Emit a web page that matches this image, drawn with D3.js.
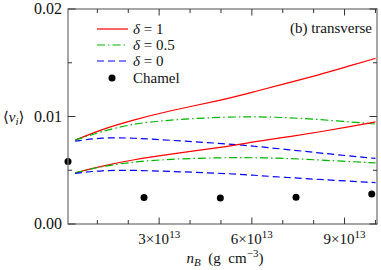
<!DOCTYPE html>
<html lang="en">
<head>
    <meta charset="UTF-8">
    <title>transverse</title>
    <script src="https://d3js.org/d3.v7.min.js"></script>
    <style>
        body {margin: 0; background: white;}
    </style>
</head>
<body>
<script>
    const width = 381;
    const height = 270;
    const margin = {top: 9, right: 4, bottom: 46, left: 68};

    // n_B in units of 1e13 g cm^-3
    const nUpperRed   = [0.28, 1.13, 2.2, 3.27, 5.03, 6.07, 7.14, 8.21, 9.27, 10.0];
    const vUpperRed   = [0.0078, 0.0088, 0.0097, 0.0105, 0.01152, 0.0123, 0.0131, 0.0139, 0.0148, 0.0154];
    const nUpperGreen = [0.28, 1.13, 2.2, 3.27, 5.03, 6.6, 7.67, 8.74, 10.0];
    const vUpperGreen = [0.0078, 0.00862, 0.00935, 0.00966, 0.00997, 0.00997, 0.00982, 0.0096, 0.0093];
    const nUpperBlue  = [0.28, 1.13, 2.2, 3.27, 5.03, 6.07, 7.14, 8.21, 10.0];
    const vUpperBlue  = [0.0077, 0.00805, 0.008, 0.0078, 0.0075, 0.00724, 0.00693, 0.0066, 0.0061];
    const nLowerRed   = [0.28, 1.13, 2.2, 3.27, 5.03, 6.07, 7.14, 8.21, 9.27, 10.0];
    const vLowerRed   = [0.00475, 0.0054, 0.006, 0.00646, 0.00714, 0.00764, 0.0081, 0.00857, 0.0091, 0.0095];
    const nLowerGreen = [0.28, 1.13, 2.2, 3.27, 5.03, 6.6, 7.67, 8.74, 10.0];
    const vLowerGreen = [0.00475, 0.00538, 0.00578, 0.00603, 0.00619, 0.00616, 0.00603, 0.00587, 0.00568];
    const nLowerBlue  = [0.28, 1.13, 2.2, 3.27, 5.03, 6.07, 7.14, 8.21, 10.0];
    const vLowerBlue  = [0.0047, 0.005, 0.005, 0.0049, 0.00472, 0.00454, 0.00432, 0.00414, 0.00385];

    const nChamel = [0.05, 2.51, 4.98, 7.43, 9.88];
    const vChamel = [0.00581, 0.00246, 0.00242, 0.00249, 0.0028];

    const xMajor = [3, 6, 9];
    const xMinor = [1, 2, 4, 5, 7, 8, 10];
    const yMajor = [0, 0.01, 0.02];
    const yMinor = [0.005, 0.015];

    const legendLabels = ["δ = 1", "δ = 0.5", "δ = 0"];

    const styles = {
        red:   {color: "#ff0000", dash: null},
        green: {color: "#00b400", dash: "8,3,1.5,3"},
        blue:  {color: "#0000ff", dash: "7,4"}
    };

    const series = [
        {n: nUpperRed, v: vUpperRed, s: "red"},
        {n: nUpperGreen, v: vUpperGreen, s: "green"},
        {n: nUpperBlue, v: vUpperBlue, s: "blue"},
        {n: nLowerRed, v: vLowerRed, s: "red"},
        {n: nLowerGreen, v: vLowerGreen, s: "green"},
        {n: nLowerBlue, v: vLowerBlue, s: "blue"}
    ];

    const svg = d3.select("body").append("svg")
            .attr("width", width).attr("height", height)
            .attr("font-family", "'Liberation Serif', 'DejaVu Serif', serif")
            .attr("font-size", 15)
            .attr("fill", "#111");

    const x = d3.scaleLinear().domain([0.05, 10.05])
            .range([margin.left, width - margin.right]);
    const y = d3.scaleLinear().domain([0, 0.02])
            .range([height - margin.bottom, margin.top]);

    const line = d3.line()
            .x(d => x(d[0]))
            .y(d => y(d[1]))
            .curve(d3.curveBasis);

    // curves
    svg.selectAll("path.curve")
            .data(series)
            .enter()
            .append("path")
            .attr("class", "curve")
            .attr("d", d => line(d.n.map((n, i) => [n, d.v[i]])))
            .style("fill", "none")
            .style("stroke", d => styles[d.s].color)
            .style("stroke-dasharray", d => styles[d.s].dash)
            .style("stroke-width", 1.2);

    // Chamel points
    svg.selectAll("circle.chamel")
            .data(nChamel)
            .enter()
            .append("circle")
            .attr("class", "chamel")
            .attr("cx", d => x(d))
            .attr("cy", (d, i) => y(vChamel[i]))
            .attr("r", 3.5)
            .style("fill", "black");

    // frame and ticks
    const x0 = x.range()[0], x1 = x.range()[1];
    const y0 = y.range()[0], y1 = y.range()[1];
    const axisColor = "#777";

    svg.append("rect")
            .attr("x", x0).attr("y", y1)
            .attr("width", x1 - x0).attr("height", y0 - y1)
            .style("fill", "none")
            .style("stroke", axisColor)
            .style("stroke-width", 1.3);

    function xTicks(vals, len) {
        vals.forEach(v => {
            svg.append("line").attr("x1", x(v)).attr("x2", x(v))
                    .attr("y1", y0).attr("y2", y0 - len)
                    .style("stroke", "#333").style("stroke-width", 1);
            svg.append("line").attr("x1", x(v)).attr("x2", x(v))
                    .attr("y1", y1).attr("y2", y1 + len)
                    .style("stroke", "#333").style("stroke-width", 1);
        });
    }
    function yTicks(vals, len) {
        vals.forEach(v => {
            svg.append("line").attr("x1", x0).attr("x2", x0 + len)
                    .attr("y1", y(v)).attr("y2", y(v))
                    .style("stroke", "#333").style("stroke-width", 1);
            svg.append("line").attr("x1", x1).attr("x2", x1 - len)
                    .attr("y1", y(v)).attr("y2", y(v))
                    .style("stroke", "#333").style("stroke-width", 1);
        });
    }
    xTicks(xMajor, 6.5);
    xTicks(xMinor, 4);
    yTicks(yMajor, 7.5);
    yTicks(yMinor, 4);

    // tick labels
    svg.selectAll("text.ylab")
            .data(yMajor)
            .enter()
            .append("text")
            .attr("class", "ylab")
            .attr("x", x0 - 6)
            .attr("y", d => y(d) + 5)
            .attr("text-anchor", "end")
            .attr("font-size", 16)
            .text(d => d3.format(".2f")(d));

    const xl = svg.selectAll("text.xlab")
            .data(xMajor)
            .enter()
            .append("text")
            .attr("class", "xlab")
            .attr("x", d => x(d))
            .attr("y", y0 + 20)
            .attr("text-anchor", "middle");
    xl.append("tspan").text(d => d + "×10");
    xl.append("tspan").attr("dy", -6).attr("font-size", 11).text("13");

    // axis titles
    const yt = svg.append("text").attr("x", 3).attr("y", y(0.01) + 5);
    yt.append("tspan").text("⟨");
    yt.append("tspan").attr("font-style", "italic").text("v");
    yt.append("tspan").attr("dy", 3).attr("font-size", 11).attr("font-style", "italic").text("i");
    yt.append("tspan").attr("dy", -3).text("⟩");

    const xt = svg.append("text").attr("x", 225).attr("y", 263).attr("text-anchor", "middle");
    xt.append("tspan").attr("font-style", "italic").text("n");
    xt.append("tspan").attr("dy", 3).attr("font-size", 11).attr("font-style", "italic").text("B");
    xt.append("tspan").attr("dy", -3).text("\u00a0\u00a0(g\u00a0\u00a0cm");
    xt.append("tspan").attr("dy", -6).attr("font-size", 11).text("−3");
    xt.append("tspan").attr("dy", 6).text(")");

    // panel label
    svg.append("text").attr("x", 372).attr("y", 33)
            .attr("text-anchor", "end")
            .text("(b) transverse");

    // legend
    const legendKeys = ["red", "green", "blue"];
    const legend = svg.append("g").attr("class", "legend");
    legendKeys.forEach((k, i) => {
        const ly = 29 + i * 16;
        legend.append("line")
                .attr("x1", 97).attr("x2", 128)
                .attr("y1", ly).attr("y2", ly)
                .style("stroke", styles[k].color)
                .style("stroke-dasharray", styles[k].dash)
                .style("stroke-width", 1.2);
        const t = legend.append("text").attr("x", 133).attr("y", ly + 5);
        t.append("tspan").attr("font-style", "italic").text("δ");
        t.append("tspan").text(legendLabels[i].slice(1));
    });
    legend.append("circle").attr("cx", 112).attr("cy", 78).attr("r", 3.5).style("fill", "black");
    legend.append("text").attr("x", 133).attr("y", 83).text("Chamel");

</script>
</body>
</html>
